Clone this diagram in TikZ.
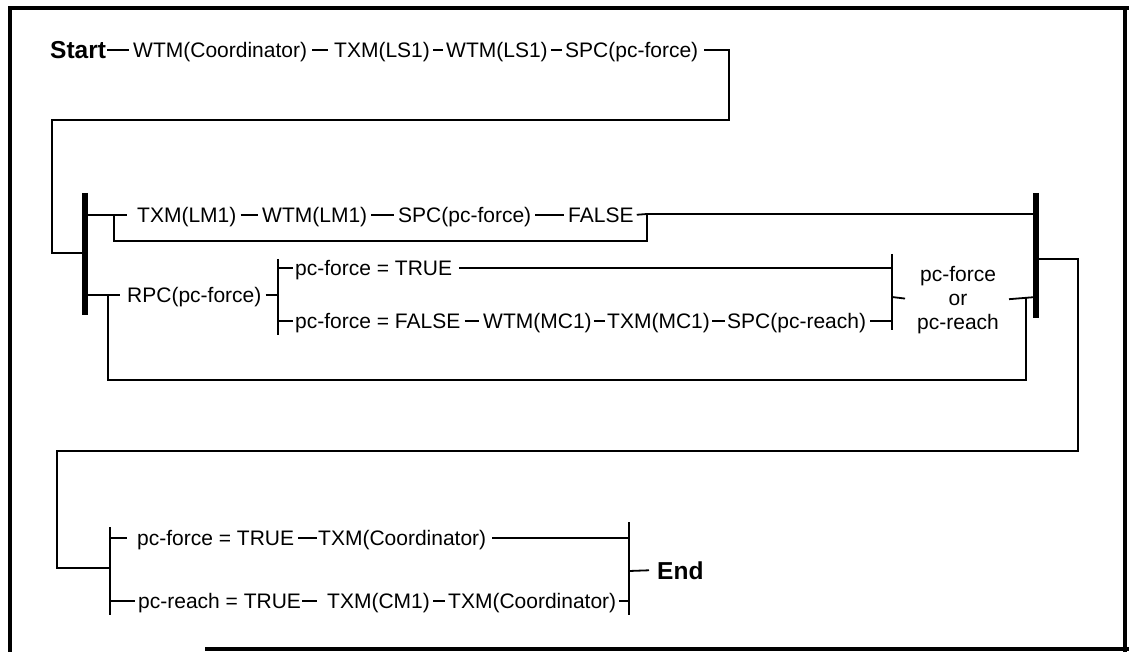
\documentclass[tikz,border=0pt]{standalone}
\usepackage{fontspec}
\setmainfont{Liberation Sans}
\begin{document}
\begin{tikzpicture}[x=1pt,y=-1pt,
  lbl/.style={anchor=west,inner sep=0pt,font=\fontsize{21}{24}\selectfont,
              text height=15pt,text depth=0pt},
  key/.style={lbl,font=\fontsize{24.5}{28}\selectfont\bfseries,text height=18pt},
  wire/.style={line width=1.8pt},
  seg/.style={wire,shorten <=4pt,shorten >=4pt},
  bar/.style={line width=2.6pt},
  thickbar/.style={line width=5.5pt},
  frame/.style={line width=4.5pt}]
\useasboundingbox (0,0) rectangle (1129,652);

% outer frame
\draw[frame] (10,652) -- (10,8) -- (1129,8);
\draw[frame] (1125,8) -- (1125,652);
\draw[frame] (205,649) -- (1129,649);

% ---- first sequence
\node[key] (start) at (50,50) {Start};
\node[lbl] (wtmc)  at (133,50) {WTM(Coordinator)};
\node[lbl] (txls)  at (334,50) {TXM(LS1)};
\node[lbl] (wtls)  at (446,50) {WTM(LS1)};
\node[lbl] (spcf)  at (565,50) {SPC(pc-force)};
\draw[seg,shorten <=1pt] (start) -- (wtmc);
\draw[seg,shorten <=5pt,shorten >=6pt] (wtmc) -- (txls);
\draw[seg,shorten <=3pt,shorten >=3pt] (txls) -- (wtls);
\draw[seg,shorten <=3pt,shorten >=3pt] (wtls) -- (spcf);

% bars of the parallel block
\coordinate (Lt) at (85,193);  \coordinate (Lb) at (85,315);
\coordinate (Rt) at (1036,193); \coordinate (Rb) at (1036,318);
\draw[thickbar] (Lt) -- (Lb);
\draw[thickbar] (Rt) -- (Rb);

\coordinate (c1) at (729,50);
\draw[wire,shorten <=6pt] (spcf.east) -- (c1) -- (729,120) -- (52,120) -- (52,253) -- (85,253);

% ---- upper branch (optional sequence)
\node[lbl] (txlm)  at (137,215) {TXM(LM1)};
\node[lbl] (wtlm)  at (262,215) {WTM(LM1)};
\node[lbl] (spcf2) at (398,215) {SPC(pc-force)};
\node[lbl] (fls)   at (568,215) {FALSE};
\draw[wire,shorten >=10pt] (85,215) -- (txlm.west);
\draw[seg] (txlm) -- (wtlm);
\draw[seg] (wtlm) -- (spcf2);
\draw[seg] (spcf2) -- (fls);
\coordinate (u1) at (647,214);
\draw[wire,shorten <=3pt] (fls.east) -- (u1) -- (1036,214);
\draw[wire] (114,215) -- (114,241) -- (647,241) -- (u1);

% ---- lower branch (loop)
\node[lbl] (rpc) at (127,295) {RPC(pc-force)};
\draw[wire,shorten >=7pt] (85,295) -- (rpc.west);
\coordinate (b2t) at (278,259); \coordinate (b2b) at (278,335);
\draw[bar] (b2t) -- (b2b);
\draw[seg,shorten >=0pt] (rpc.east) -- (278,295);

\node[lbl] (pft) at (295,268) {pc-force = TRUE};
\node[lbl] (pff) at (295,321) {pc-force = FALSE};
\node[lbl] (wtmc1) at (483,321) {WTM(MC1)};
\node[lbl] (txmc1) at (607,321) {TXM(MC1)};
\node[lbl] (spcr)  at (727,321) {SPC(pc-reach)};
\draw[wire,shorten >=2pt] (278,268) -- (pft.west);
\draw[wire,shorten >=2pt] (278,321) -- (pff.west);
\draw[seg] (pff) -- (wtmc1);
\draw[seg,shorten <=2pt,shorten >=2pt] (wtmc1) -- (txmc1);
\draw[seg,shorten <=2pt,shorten >=2pt] (txmc1) -- (spcr);

\coordinate (b3t) at (892,254); \coordinate (b3b) at (892,330);
\draw[bar] (b3t) -- (b3b);
\draw[wire,shorten <=7pt] (pft.east) -- (892,268);
\draw[wire,shorten <=4pt] (spcr.east) -- (892,321);

\node[lbl,anchor=center,align=center,text height=,text depth=] (orl) at (958,300)
  {pc-force\\or\\pc-reach};
\draw[wire,shorten >=12pt] (892,297) -- (orl.west);
\draw[wire,shorten <=10pt] (orl.east) -- (1036,297);
\draw[wire] (108,295) -- (108,380) -- (1026,380) -- (1026,297);

% ---- final choice
\draw[wire] (1036,259) -- (1078,259) -- (1078,451) -- (57,451) -- (57,568) -- (110,568);
\coordinate (b4t) at (110,527); \coordinate (b4b) at (110,615);
\draw[bar] (b4t) -- (b4b);
\coordinate (b5t) at (629,522); \coordinate (b5b) at (629,615);
\draw[bar] (b5t) -- (b5b);

\node[lbl] (pft2)  at (137,538) {pc-force = TRUE};
\node[lbl] (txco)  at (318,538) {TXM(Coordinator)};
\node[lbl] (prt)   at (138,601) {pc-reach = TRUE};
\node[lbl] (txcm)  at (327,601) {TXM(CM1)};
\node[lbl] (txco2) at (448,601) {TXM(Coordinator)};
\node[key] (end)   at (657,570) {End};

\draw[wire,shorten >=10pt] (110,538) -- (pft2.west);
\draw[seg,shorten >=1pt] (pft2) -- (txco);
\draw[wire,shorten <=6pt] (txco.east) -- (629,538);
\draw[wire,shorten >=3pt] (110,601) -- (prt.west);
\draw[seg,shorten <=1pt,shorten >=10pt] (prt) -- (txcm);
\draw[seg,shorten <=3pt,shorten >=3pt] (txcm) -- (txco2);
\draw[wire,shorten <=3pt] (txco2.east) -- (629,601);
\draw[wire,shorten >=8pt] (629,571) -- (end.west);
\end{tikzpicture}
\end{document}
